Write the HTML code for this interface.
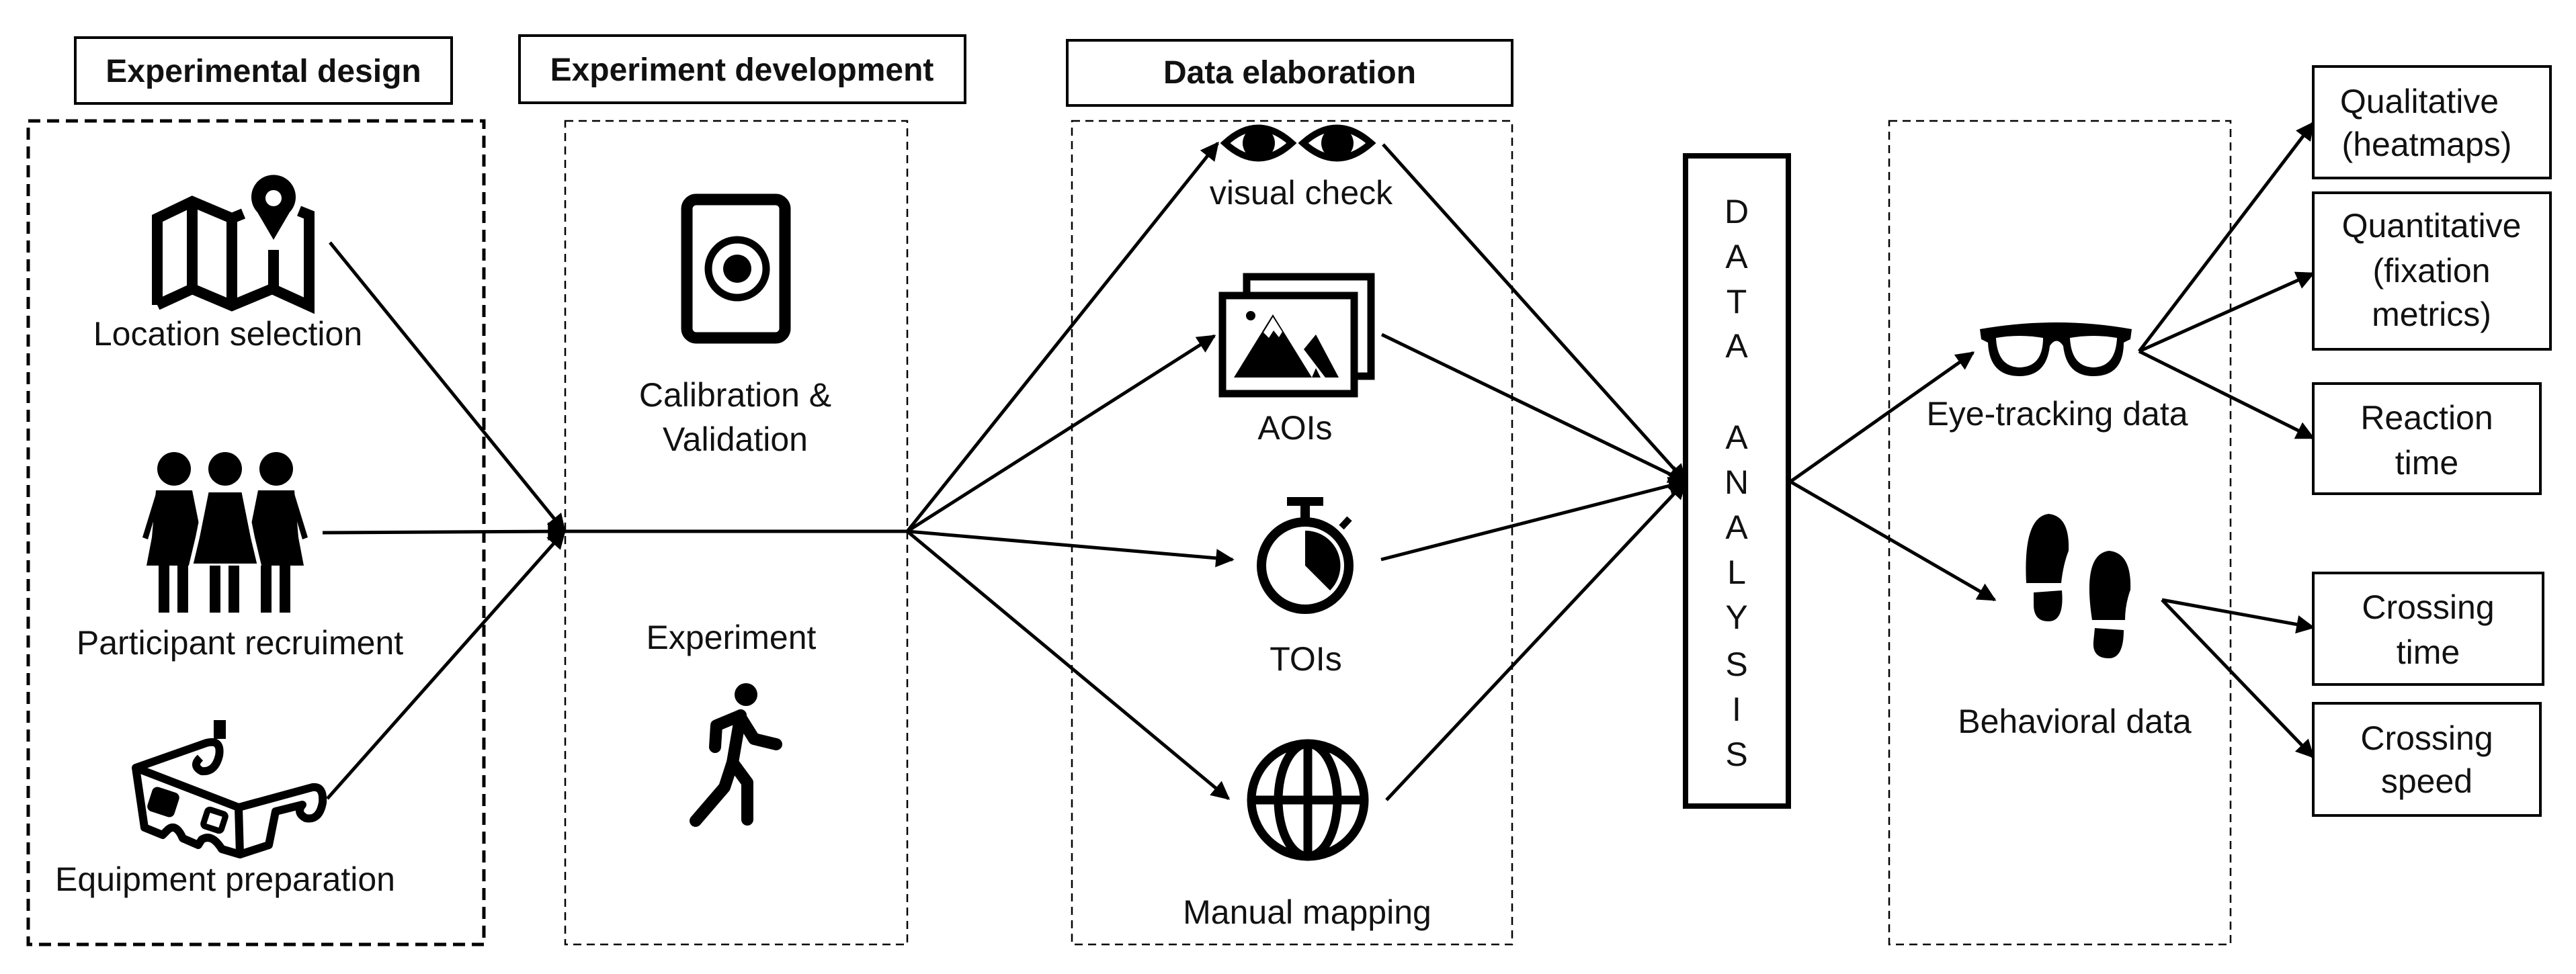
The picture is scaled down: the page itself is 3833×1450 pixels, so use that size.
<!DOCTYPE html>
<html><head><meta charset="utf-8"><style>
html,body{margin:0;padding:0;background:#fff;}
svg{display:block;}
text{font-family:"Liberation Sans",sans-serif;fill:#111;}
</style></head><body>
<svg width="3833" height="1450" viewBox="0 0 3833 1450" xmlns="http://www.w3.org/2000/svg">
<defs>
<marker id="ah" viewBox="0 0 10 10" refX="9" refY="5" markerWidth="7" markerHeight="5.5" markerUnits="strokeWidth" orient="auto">
<path d="M0,0 L10,5 L0,10 z" fill="#000"/></marker>
</defs>
<rect width="3833" height="1450" fill="#fff"/>

<g fill="none" stroke="#000" stroke-width="4">
<rect x="112" y="56" width="560" height="98"/>
<rect x="773" y="53" width="663" height="100"/>
<rect x="1588" y="60" width="662" height="97"/>
</g>
<g font-weight="bold" font-size="48" text-anchor="middle">
<text x="392" y="122">Experimental design</text>
<text x="1104" y="120">Experiment development</text>
<text x="1919" y="124">Data elaboration</text>
</g>

<rect x="42" y="180" width="678" height="1226" fill="none" stroke="#000" stroke-width="5" stroke-dasharray="18,10"/>
<g fill="none" stroke="#000" stroke-width="2.5" stroke-dasharray="12,8">
<rect x="841" y="180" width="509" height="1226"/>
<rect x="1595" y="180" width="655" height="1226"/>
<rect x="2811" y="180" width="508" height="1226"/>
</g>

<rect x="2508" y="232" width="153" height="968" fill="none" stroke="#000" stroke-width="8"/>
<g font-size="50" text-anchor="middle">
<text x="2584" y="332">D</text><text x="2584" y="399">A</text><text x="2584" y="466">T</text><text x="2584" y="532">A</text>
<text x="2584" y="668">A</text><text x="2584" y="735">N</text><text x="2584" y="802">A</text><text x="2584" y="869">L</text>
<text x="2584" y="936">Y</text><text x="2584" y="1006">S</text><text x="2584" y="1073">I</text><text x="2584" y="1140">S</text>
</g>

<g fill="none" stroke="#000" stroke-width="4">
<rect x="3442" y="99" width="353" height="166"/>
<rect x="3442" y="287" width="353" height="233"/>
<rect x="3442" y="571" width="338" height="164"/>
<rect x="3442" y="853" width="342" height="166"/>
<rect x="3442" y="1047" width="338" height="167"/>
</g>
<g font-size="50" text-anchor="middle">
<text x="3600" y="168">Qualitative</text><text x="3611" y="232">(heatmaps)</text>
<text x="3618" y="353">Quantitative</text><text x="3618" y="420">(fixation</text><text x="3618" y="485">metrics)</text>
<text x="3611" y="639">Reaction</text><text x="3611" y="706">time</text>
<text x="3613" y="921">Crossing</text><text x="3613" y="988">time</text>
<text x="3611" y="1116">Crossing</text><text x="3611" y="1180">speed</text>
</g>

<g font-size="50" text-anchor="middle">
<text x="339" y="514">Location selection</text>
<text x="357" y="974">Participant recruiment</text>
<text x="335" y="1326">Equipment preparation</text>
<text x="1094" y="605">Calibration &amp;</text>
<text x="1094" y="671">Validation</text>
<text x="1088" y="966">Experiment</text>
<text x="1936" y="304">visual check</text>
<text x="1927" y="654">AOIs</text>
<text x="1943" y="998">TOIs</text>
<text x="1945" y="1375">Manual mapping</text>
<text x="3061" y="633">Eye-tracking data</text>
<text x="3087" y="1091">Behavioral data</text>
</g>

<g stroke="#000" stroke-width="5" fill="none" stroke-linecap="butt">
<line x1="491" y1="361" x2="840" y2="791" marker-end="url(#ah)"/>
<line x1="480" y1="793" x2="840" y2="791" marker-end="url(#ah)"/>
<line x1="487" y1="1189" x2="840" y2="791" marker-end="url(#ah)"/>
<line x1="838" y1="791" x2="1352" y2="791"/>
<line x1="1350" y1="791" x2="1812" y2="213" marker-end="url(#ah)"/>
<line x1="1350" y1="791" x2="1807" y2="500" marker-end="url(#ah)"/>
<line x1="1350" y1="791" x2="1834" y2="833" marker-end="url(#ah)"/>
<line x1="1350" y1="791" x2="1828" y2="1189" marker-end="url(#ah)"/>
<line x1="2058" y1="215" x2="2508" y2="717" marker-end="url(#ah)"/>
<line x1="2056" y1="498" x2="2508" y2="717" marker-end="url(#ah)"/>
<line x1="2055" y1="833" x2="2508" y2="717" marker-end="url(#ah)"/>
<line x1="2063" y1="1191" x2="2508" y2="717" marker-end="url(#ah)"/>
<line x1="2664" y1="717" x2="2936" y2="525" marker-end="url(#ah)"/>
<line x1="2664" y1="717" x2="2968" y2="893" marker-end="url(#ah)"/>
<line x1="3183" y1="523" x2="3442" y2="183" marker-end="url(#ah)"/>
<line x1="3183" y1="523" x2="3442" y2="407" marker-end="url(#ah)"/>
<line x1="3183" y1="523" x2="3442" y2="652" marker-end="url(#ah)"/>
<line x1="3217" y1="893" x2="3442" y2="934" marker-end="url(#ah)"/>
<line x1="3217" y1="893" x2="3442" y2="1127" marker-end="url(#ah)"/>
</g>

<g fill="none" stroke="#000" stroke-width="16" stroke-linejoin="miter">
<path d="M234,454 L234,325 L286,300 L345,325 L362,318"/>
<path d="M234,454 L286,430 L345,455 L405,430 L460,455 L460,320 L445,314"/>
<line x1="286" y1="300" x2="286" y2="430"/>
<line x1="345" y1="325" x2="345" y2="455"/>
<line x1="407" y1="372" x2="407" y2="430"/>
</g>
<path d="M407,357 L383,316 A33,33 0 1 1 431,316 Z" fill="#000"/>
<circle cx="407" cy="295" r="12" fill="#fff"/>

<g fill="#000">
<circle cx="259" cy="698" r="25"/><circle cx="335" cy="698" r="25"/><circle cx="411" cy="698" r="25"/>
<path d="M232,730 L286,730 L300,800 L306,842 L218,842 L226,800 Z"/>
<path d="M384,730 L438,730 L444,800 L452,842 L364,842 L370,800 Z"/>
<path d="M308,730 L362,730 L376,800 L386,842 L284,842 L294,800 Z" stroke="#fff" stroke-width="6"/>
<path d="M232,735 L212,800 L220,803 L236,750Z M438,735 L458,800 L450,803 L434,750Z"/>
<rect x="236" y="842" width="16" height="70"/><rect x="264" y="842" width="16" height="70"/>
<rect x="312" y="842" width="16" height="70"/><rect x="340" y="842" width="16" height="70"/>
<rect x="388" y="842" width="16" height="70"/><rect x="416" y="842" width="16" height="70"/>
</g>

<rect x="318" y="1072" width="18" height="28" fill="#000"/>
<g fill="none" stroke="#000" stroke-width="12" stroke-linejoin="round">
<path d="M202,1143 L307,1106 Q330,1100 326,1125 Q320,1150 300,1148 Q285,1140 298,1128"/>
<path d="M202,1143 L355,1202 L357,1272 L330,1264 Q315,1240 300,1250 L295,1258 L272,1248 Q262,1225 250,1235 L242,1243 L215,1232 Z"/>
<path d="M355,1202 L465,1172 Q482,1170 480,1195 Q475,1222 455,1218 Q440,1210 450,1198 L410,1208 L400,1258 L357,1272"/>
</g>
<rect x="222" y="1175" width="42" height="38" rx="8" fill="#000" transform="rotate(18 243 1194)"/>
<rect x="305" y="1208" width="28" height="26" rx="4" fill="none" stroke="#000" stroke-width="9" transform="rotate(18 319 1221)"/>

<rect x="1022" y="297" width="146" height="206" rx="14" fill="none" stroke="#000" stroke-width="17"/>
<circle cx="1097" cy="400" r="43" fill="none" stroke="#000" stroke-width="11"/>
<circle cx="1097" cy="400" r="21" fill="#000"/>

<circle cx="1110" cy="1034" r="17" fill="#000"/>
<g stroke="#000" stroke-width="18" stroke-linecap="round" stroke-linejoin="round" fill="none">
<path d="M1102,1065 L1090,1135 L1112,1165 L1112,1220"/>
<path d="M1090,1135 L1078,1172 L1035,1222"/>
<path d="M1102,1065 L1066,1080 L1064,1112"/>
<path d="M1102,1068 L1122,1100 L1155,1108"/>
</g>

<g>
<path d="M1823,213 Q1872,168 1922,213 Q1872,258 1823,213 Z" fill="#fff" stroke="#000" stroke-width="10"/>
<circle cx="1873" cy="213" r="24" fill="#000"/>
<path d="M1939,213 Q1989,168 2040,213 Q1989,258 1939,213 Z" fill="#fff" stroke="#000" stroke-width="10"/>
<circle cx="1990" cy="213" r="24" fill="#000"/>
</g>

<g fill="none" stroke="#000" stroke-width="11">
<path d="M1855,440 L1855,412 L2040,412 L2040,560 L2014,560"/>
<rect x="1819" y="440" width="196" height="146"/>
</g>
<circle cx="1861" cy="470" r="7" fill="#000"/>
<path d="M1836,562 L1894,468 L1952,562 Z M1952,562 L1965,562 L1958,548 Z" fill="#000"/>
<path d="M1940,520 L1958,498 L1992,562 L1972,562 Z" fill="#000"/>
<path d="M1880,495 L1888,503 L1895,492 L1903,502 L1908,494 L1894,472 Z" fill="#fff"/>

<circle cx="1942" cy="842" r="65" fill="none" stroke="#000" stroke-width="14"/>
<rect x="1915" y="740" width="54" height="13" fill="#000"/>
<rect x="1935" y="750" width="14" height="25" fill="#000"/>
<line x1="1996" y1="785" x2="2008" y2="772" stroke="#000" stroke-width="10"/>
<path d="M1942,842 L1942,790 A52,52 0 0 1 1979,879 Z" fill="#000"/>

<g fill="none" stroke="#000" stroke-width="13">
<circle cx="1946" cy="1191" r="84"/>
<ellipse cx="1946" cy="1191" rx="44" ry="84"/>
<line x1="1946" y1="1107" x2="1946" y2="1275"/>
<line x1="1862" y1="1191" x2="2030" y2="1191"/>
</g>

<path d="M2946,490 Q3060,470 3172,490 L3170,505 L3160,510 Q3160,560 3115,560 Q3075,560 3070,515 Q3060,500 3050,515 Q3045,560 3005,560 Q2960,560 2958,510 L2948,505 Z" fill="#000"/>
<path d="M2970,503 Q3005,497 3040,503 Q3040,546 3005,547 Q2972,546 2970,503 Z" fill="#fff"/>
<path d="M3080,503 Q3115,497 3150,503 Q3148,546 3115,547 Q3082,546 3080,503 Z" fill="#fff"/>

<g fill="#000">
<path d="M3015,868 Q3010,770 3048,765 Q3080,768 3078,820 Q3070,840 3067,868 Z"/>
<path d="M3026,882 L3068,879 Q3072,925 3048,925 Q3026,925 3026,900 Z"/>
<path d="M3113,923 Q3098,825 3138,820 Q3172,823 3170,878 Q3162,900 3162,923 Z"/>
<path d="M3117,935 L3160,938 Q3160,980 3138,980 Q3113,980 3115,955 Z"/>
</g>
</svg>
</body></html>
